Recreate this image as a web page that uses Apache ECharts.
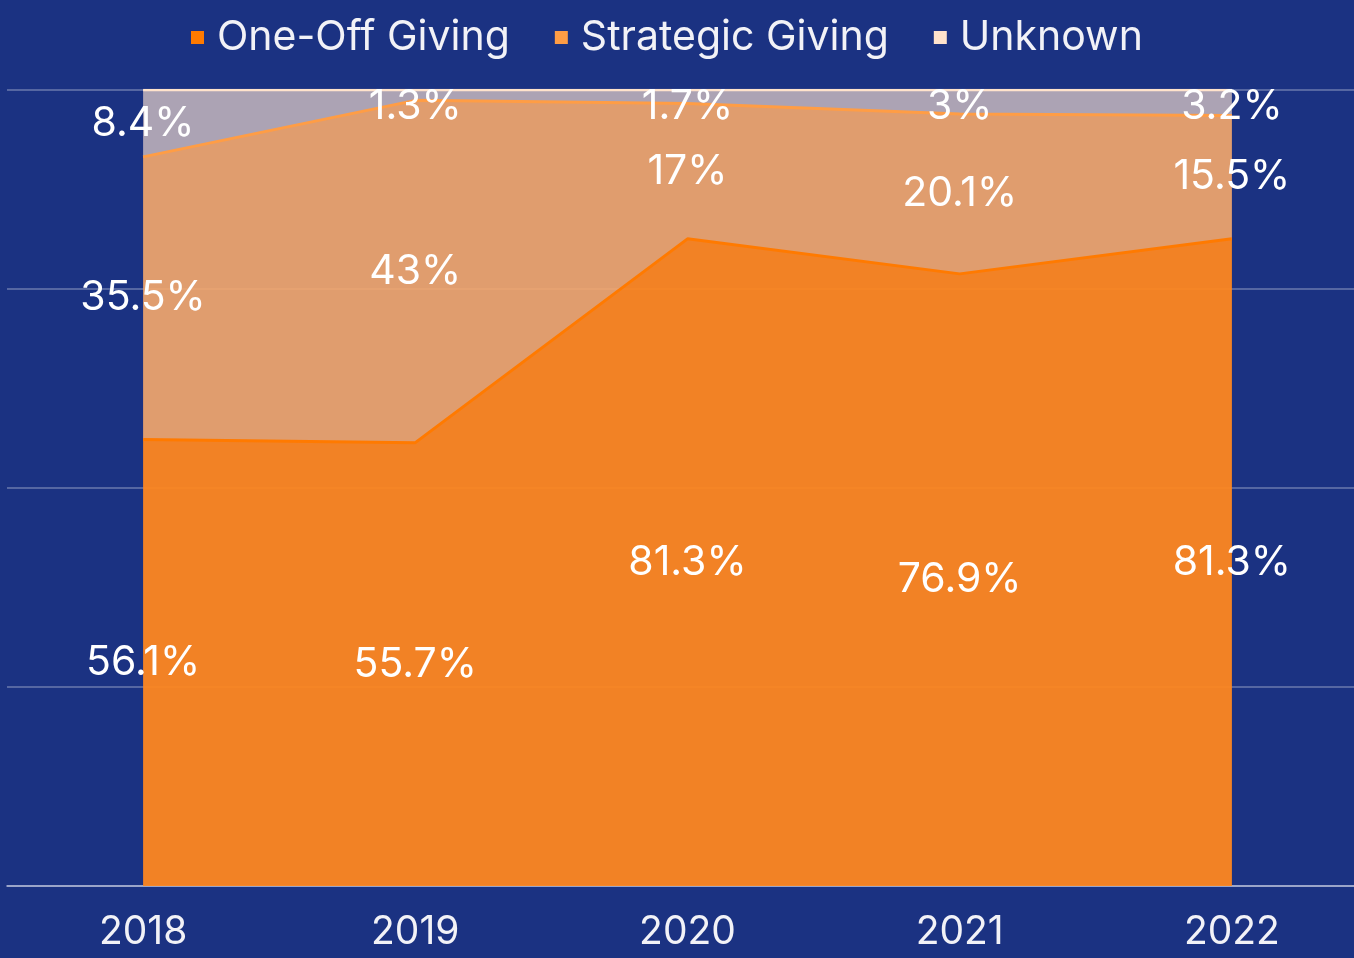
<!DOCTYPE html>
<html>
<head>
<meta charset="utf-8">
<script src="https://cdn.jsdelivr.net/npm/echarts@6/dist/echarts.min.js"></script>
<style>
  html, body { margin: 0; padding: 0; background: #1b3282; overflow: hidden; }
  #chart { width: 1368px; height: 958px; }
</style>
</head>
<body>
<div id="chart"></div>
<script>
const years = ["2018", "2019", "2020", "2021", "2022"];
const oneOff = [56.1, 55.7, 81.3, 76.9, 81.3];
const strategic = [35.5, 43, 17, 20.1, 15.5];
const unknown = [8.4, 1.3, 1.7, 3, 3.2];

const FONT = "Inter";
const TEXT = "#f2f2f7";

// label anchors: middle of each band (unknown kept inside the top edge)
const oneOffLabels = oneOff.map((v, i) => [i, v / 2, v]);
const stratLabels = strategic.map((v, i) => [i, oneOff[i] + v / 2, v]);
const unknownLabels = unknown.map((v, i) => [i, Math.min(oneOff[i] + strategic[i] + v / 2, 97.9), v]);

const chart = echarts.init(document.getElementById("chart"));

const labelSeries = (name, data) => ({
  name: name + "-label",
  type: "scatter",
  symbolSize: 1,
  silent: true,
  z: 10,
  data: data,
  itemStyle: { opacity: 0 },
  label: {
    show: true,
    position: "inside",
    color: "#ffffff",
    opacity: 1,
    fontFamily: FONT,
    fontSize: 41,
    formatter: (p) => p.value[2] + "%",
  },
});

chart.setOption({
  backgroundColor: "#1b3282",
  animation: false,
  legend: {
    top: 12,
    left: 186,
    icon: "rect",
    itemWidth: 13,
    itemHeight: 13,
    itemGap: 45,
    textStyle: { color: TEXT, fontFamily: FONT, fontSize: 41, padding: [0, 0, 0, 8] },
    data: ["One-Off Giving", "Strategic Giving", "Unknown"],
  },
  grid: { left: 7, top: 90, right: 0, bottom: 72, containLabel: false },
  xAxis: {
    type: "category",
    data: years,
    boundaryGap: true,
    axisTick: { show: false },
    axisLine: { lineStyle: { color: "#b3bad6", width: 1.5 } },
    axisLabel: { color: TEXT, fontFamily: FONT, fontSize: 39, margin: 27 },
  },
  yAxis: {
    type: "value",
    min: 0,
    max: 100,
    interval: 25,
    axisLabel: { show: false },
    axisLine: { show: false },
    axisTick: { show: false },
    splitLine: { lineStyle: { color: "rgba(255,255,255,0.35)", width: 1.5 } },
  },
  series: [
    {
      name: "One-Off Giving",
      type: "line",
      stack: "total",
      data: oneOff,
      symbol: "none",
      color: "#ff7a00",
      lineStyle: { color: "#ff7a00", width: 3 },
      areaStyle: { color: "rgba(254,135,32,0.95)", opacity: 1 },
    },
    {
      name: "Strategic Giving",
      type: "line",
      stack: "total",
      data: strategic,
      symbol: "none",
      color: "#ff9d45",
      lineStyle: { color: "#ff9d45", width: 3 },
      areaStyle: { color: "rgba(246,169,107,0.9)", opacity: 1 },
    },
    {
      name: "Unknown",
      type: "line",
      stack: "total",
      data: unknown,
      symbol: "none",
      color: "#ffe3cc",
      lineStyle: { color: "#ffe3cc", width: 2.5 },
      areaStyle: { color: "rgba(250,225,207,0.65)", opacity: 1 },
    },
    labelSeries("One-Off Giving", oneOffLabels),
    labelSeries("Strategic Giving", stratLabels),
    labelSeries("Unknown", unknownLabels),
  ],
});
</script>
</body>
</html>
